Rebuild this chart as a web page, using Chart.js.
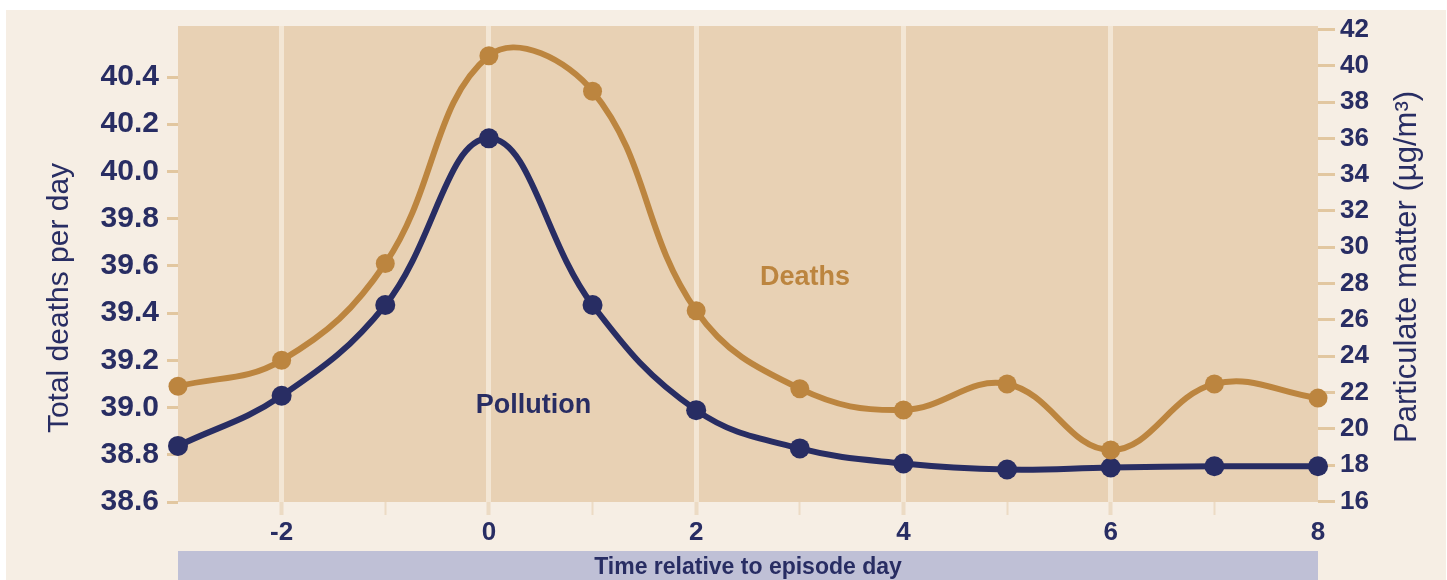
<!DOCTYPE html>
<html>
<head>
<meta charset="utf-8">
<script src="https://cdn.jsdelivr.net/npm/chart.js@4"></script>
<style>
  body { margin: 0; background: #ffffff; }
  #wrap { position: absolute; left: 6px; top: 10px; width: 1440px; height: 570px; background: #f6eee4; }
</style>
</head>
<body>
<div id="wrap"><canvas id="grafico" width="1440" height="570"></canvas></div>
<script>
// datos
var dias = [-3, -2, -1, 0, 1, 2, 3, 4, 5, 6, 7, 8];
var muertes = [39.09, 39.20, 39.61, 40.49, 40.34, 39.41, 39.08, 38.99, 39.10, 38.82, 39.10, 39.04];
var contaminacion = [19.06, 21.82, 26.82, 36.0, 26.82, 21.03, 18.92, 18.09, 17.76, 17.87, 17.94, 17.94];
var etiquetasX = [-2, 0, 2, 4, 6, 8];
var etiquetasIzq = [38.6, 38.8, 39.0, 39.2, 39.4, 39.6, 39.8, 40.0, 40.2, 40.4];
var etiquetasDer = [16, 18, 20, 22, 24, 26, 28, 30, 32, 34, 36, 38, 40, 42];

var azul = '#282d63';
var naranja = '#bc853f';
var fuente = "'Liberation Sans', Arial, sans-serif";

var fondoYTextos = {
    id: 'fondoYTextos',
    beforeDraw: function(chart) {
        var c = chart.ctx, a = chart.chartArea;
        c.save();
        c.fillStyle = '#e8d1b4';
        c.fillRect(a.left, a.top, a.right - a.left, a.bottom - a.top);
        c.restore();
    },
    afterDraw: function(chart) {
        var c = chart.ctx, a = chart.chartArea;
        var x = chart.scales.x, yI = chart.scales.yIzq;
        c.save();
        // barra del titulo del eje x
        c.fillStyle = '#bfc0d6';
        c.fillRect(a.left, 541, a.right - a.left, chart.height - 541);
        c.fillStyle = azul;
        c.font = 'bold 23px ' + fuente;
        c.textAlign = 'center';
        c.textBaseline = 'alphabetic';
        c.fillText('Time relative to episode day', (a.left + a.right) / 2, 564);
        // nombres de las series
        c.font = 'bold 27px ' + fuente;
        c.textBaseline = 'middle';
        c.fillStyle = naranja;
        c.fillText('Deaths', x.getPixelForValue(3.05), yI.getPixelForValue(39.55));
        c.fillStyle = azul;
        c.fillText('Pollution', x.getPixelForValue(0.43), yI.getPixelForValue(39.01));
        // titulos de los ejes y
        c.font = '30px ' + fuente;
        c.textBaseline = 'alphabetic';
        c.translate(62, 288);
        c.rotate(-Math.PI / 2);
        c.fillText('Total deaths per day', 0, 0);
        c.restore();
        c.save();
        c.fillStyle = azul;
        c.font = '31px ' + fuente;
        c.textAlign = 'center';
        c.translate(1410, 257);
        c.rotate(-Math.PI / 2);
        c.fillText('Particulate matter (\u00b5g/m\u00b3)', 0, 0);
        c.restore();
    }
};

function esBorde(v) { return v === dias[0] || v === dias[dias.length - 1]; }
// quitamos el relleno que Chart.js deja para las etiquetas de los extremos
function sinRelleno(s) { s.paddingTop = 0; s.paddingBottom = 0; s.paddingLeft = 0; s.paddingRight = 0; }

new Chart(document.getElementById('grafico'), {
    type: 'line',
    data: {
        labels: dias,
        datasets: [{
            label: 'Deaths',
            data: dias.map(function(d, i) { return {x: d, y: muertes[i]}; }),
            yAxisID: 'yIzq',
            borderColor: naranja,
            backgroundColor: naranja,
            borderWidth: 6,
            pointRadius: 9.5,
            pointBorderWidth: 0,
            tension: 0.4,
            clip: false
        }, {
            label: 'Pollution',
            data: dias.map(function(d, i) { return {x: d, y: contaminacion[i]}; }),
            yAxisID: 'yDer',
            borderColor: azul,
            backgroundColor: azul,
            borderWidth: 6,
            pointRadius: 10,
            pointBorderWidth: 0,
            tension: 0.4,
            clip: false
        }]
    },
    options: {
        responsive: false,
        animation: false,
        devicePixelRatio: 1,
        layout: { padding: { top: 16, left: 0, right: 0, bottom: 0 } },
        plugins: { legend: { display: false }, tooltip: { enabled: false } },
        scales: {
            x: {
                type: 'linear',
                min: -3,
                max: 8,
                afterFit: function(s) { s.height = 78; sinRelleno(s); },
                border: { display: false },
                grid: {
                    color: function(ctx) {
                        var v = ctx.tick ? ctx.tick.value : 0;
                        return (v % 2 === 0 && !esBorde(v)) ? '#f3e6d4' : 'rgba(0,0,0,0)';
                    },
                    lineWidth: 5,
                    tickLength: 13,
                    tickColor: function(ctx) {
                        var v = ctx.tick ? ctx.tick.value : 0;
                        return esBorde(v) ? 'rgba(0,0,0,0)' : '#ecdbc4';
                    },
                    tickWidth: function(ctx) {
                        var v = ctx.tick ? ctx.tick.value : 0;
                        return v % 2 === 0 ? 4 : 2;
                    }
                },
                ticks: {
                    stepSize: 1,
                    autoSkip: false,
                    maxRotation: 0,
                    padding: 2,
                    color: azul,
                    font: { family: fuente, size: 26, weight: 'bold' },
                    callback: function(v) { return etiquetasX.indexOf(v) >= 0 ? String(v) : ''; }
                }
            },
            yIzq: {
                type: 'linear',
                position: 'left',
                min: 38.6,
                max: 40.616,
                afterFit: function(s) { s.width = 172; sinRelleno(s); },
                afterBuildTicks: function(s) { s.ticks = etiquetasIzq.map(function(v) { return {value: v}; }); },
                border: { display: false },
                grid: { drawOnChartArea: false, tickLength: 11, tickColor: '#e2c7a0', tickWidth: 3 },
                ticks: {
                    padding: 8,
                    color: azul,
                    font: { family: fuente, size: 30, weight: 'bold' },
                    callback: function(v) { return v.toFixed(1); }
                }
            },
            yDer: {
                type: 'linear',
                position: 'right',
                min: 15.97,
                max: 42.19,
                afterFit: function(s) { s.width = 128; sinRelleno(s); },
                afterBuildTicks: function(s) { s.ticks = etiquetasDer.map(function(v) { return {value: v}; }); },
                border: { display: false },
                grid: { drawOnChartArea: false, tickLength: 17, tickColor: '#e2c7a0', tickWidth: 3 },
                ticks: {
                    padding: 5,
                    color: azul,
                    font: { family: fuente, size: 26, weight: 'bold' },
                    callback: function(v) { return String(v); }
                }
            }
        }
    },
    plugins: [fondoYTextos]
});
</script>
</body>
</html>
